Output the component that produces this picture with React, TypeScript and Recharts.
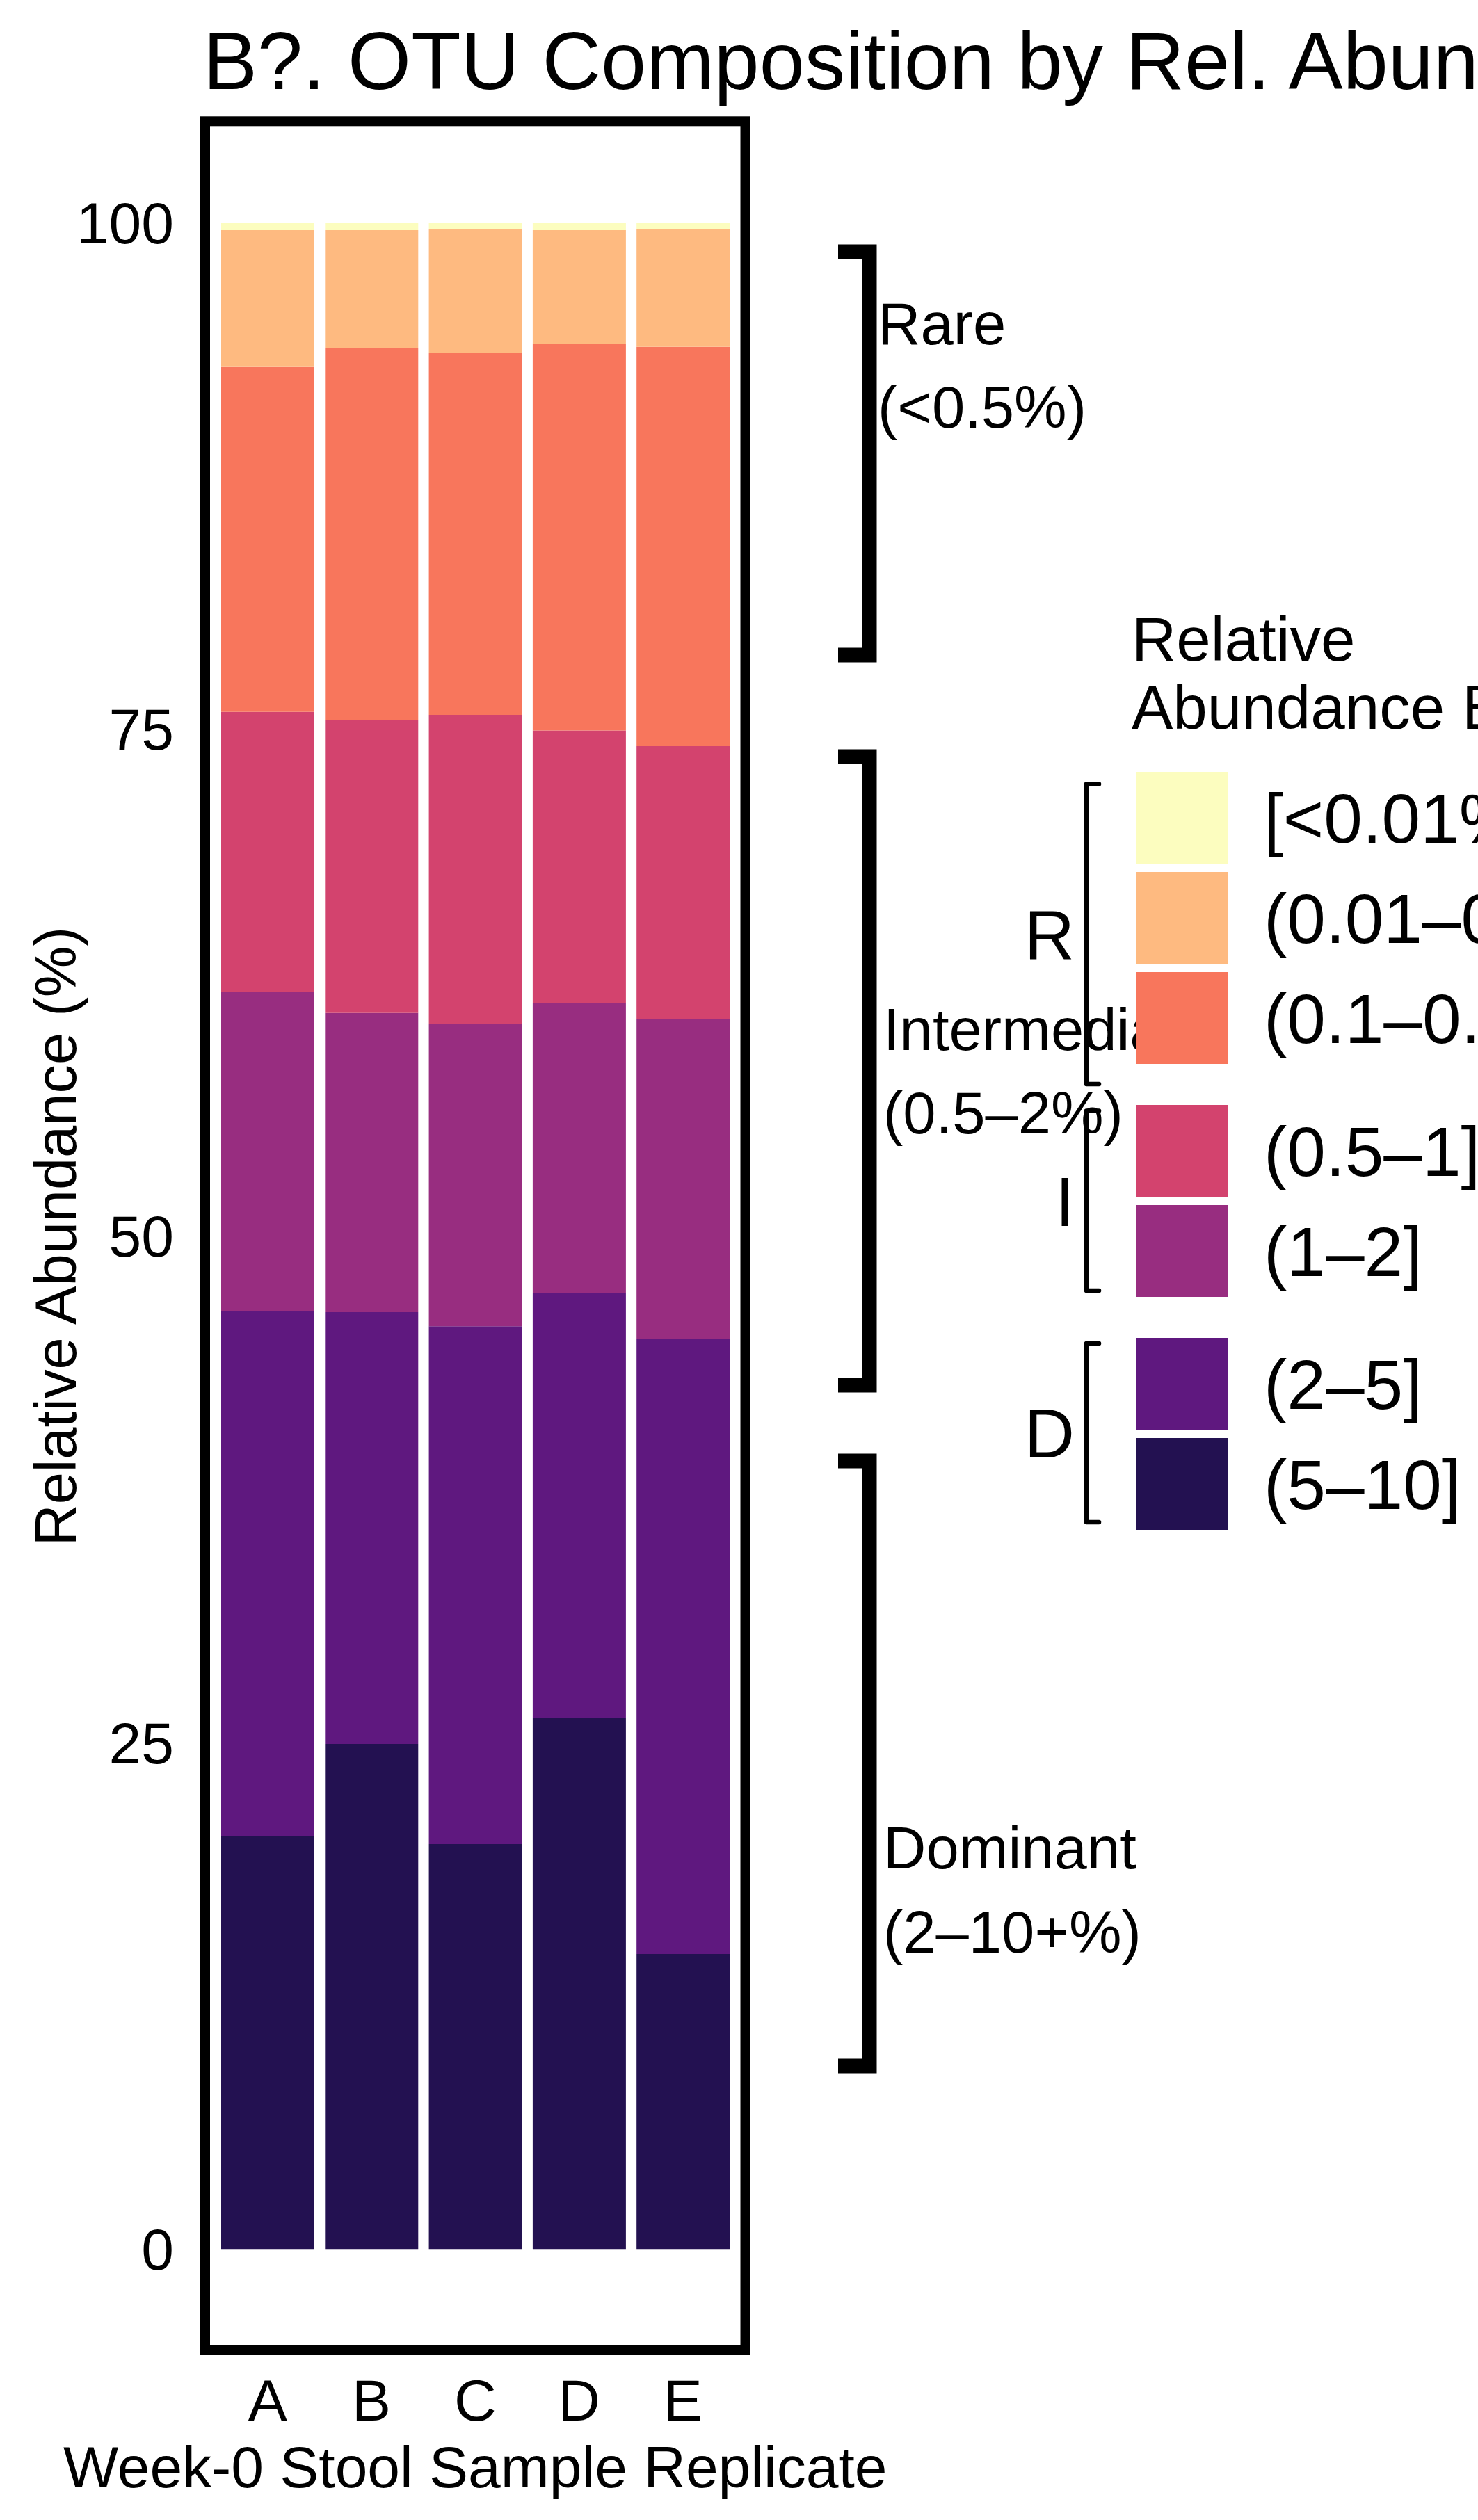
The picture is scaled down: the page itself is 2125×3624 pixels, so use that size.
import { BarChart, Bar, XAxis, YAxis } from 'recharts'

// categories
const samples = ['A', 'B', 'C', 'D', 'E']

// abundance bins, bottom of stack first
const binLabels = ['(5–10]', '(2–5]', '(1–2]', '(0.5–1]', '(0.1–0.5]', '(0.01–0.1]', '[<0.01%]']
const binColors = ['#231151', '#5F187F', '#982D80', '#D3436E', '#F8765C', '#FEBA80', '#FCFDBF']

// % of reads per bin for each replicate (A..E)
const bin5to10 = [20.39, 24.92, 19.98, 26.19, 14.56]
const bin2to5 = [25.91, 21.31, 25.56, 20.97, 30.33]
const bin1to2 = [15.75, 14.76, 14.9, 14.32, 15.8]
const bin05to1 = [13.8, 14.44, 15.27, 13.45, 13.47]
const bin01to05 = [17.02, 18.37, 17.85, 19.07, 19.71]
const bin001to01 = [6.75, 5.82, 6.1, 5.62, 5.79]
const binBelow001 = [0.38, 0.38, 0.34, 0.38, 0.34]

const yTicks = [0, 25, 50, 75, 100]

const series = [bin5to10, bin2to5, bin1to2, bin05to1, bin01to05, bin001to01, binBelow001]
const keys = ['b0', 'b1', 'b2', 'b3', 'b4', 'b5', 'b6']

const data = samples.map((s, i) => {
  const row: Record<string, any> = { sample: s }
  series.forEach((arr, k) => { row[keys[k]] = arr[i] })
  return row
})

// layout (px)
const W = 2125
const H = 3624
const plotLeft = 295
const plotRight = 1071.5
const plotTop = 174.3
const plotBottom = 3380
const font = '"Liberation Sans", Arial, Helvetica, sans-serif'

// legend rows, top to bottom = top of stack first
const legendOrder = [6, 5, 4, 3, 2, 1, 0]
const keyTops = [1110, 1254, 1398, 1589, 1733, 1924, 2068]
const keySize = 132

function Bracket({ top, bottom, x, stub, width }: { top: number; bottom: number; x: number; stub: number; width: number }) {
  return (
    <path
      d={`M${x - stub},${top} H${x} V${bottom} H${x - stub}`}
      fill="none"
      stroke="#000"
      strokeWidth={width}
      strokeLinejoin="miter"
    />
  )
}

function LegendBracket({ top, bottom }: { top: number; bottom: number }) {
  return (
    <path
      d={`M1580,${top} H1562 V${bottom} H1580`}
      fill="none"
      stroke="#000"
      strokeWidth={6.5}
      strokeLinecap="round"
      strokeLinejoin="round"
    />
  )
}

export default function App() {
  return (
    <div style={{ position: 'absolute', left: 0, top: 0, width: W, height: H, overflow: 'hidden', background: '#fff', fontFamily: font }}>
      <div style={{ position: 'absolute', left: 0, top: 0 }}>
        <BarChart
          width={W}
          height={H}
          data={data}
          margin={{ top: plotTop, right: W - plotRight, bottom: H - plotBottom - 100, left: plotLeft - 100 }}
          barSize={134}
        >
          <XAxis
            dataKey="sample"
            height={100}
            padding={{ left: 15, right: 15 }}
            axisLine={false}
            tickLine={false}
            tickMargin={35.4}
            tick={{ fontSize: 84, fill: '#000', fontFamily: font }}
          />
          <YAxis
            type="number"
            width={100}
            domain={[-5, 105]}
            ticks={yTicks}
            axisLine={false}
            tickLine={false}
            tickMargin={39}
            tick={{ fontSize: 84, fill: '#000', fontFamily: font }}
          />
          {keys.map((k, i) => (
            <Bar key={k} dataKey={k} stackId="a" fill={binColors[i]} isAnimationActive={false} />
          ))}
        </BarChart>
      </div>

      <svg width={W} height={H} style={{ position: 'absolute', left: 0, top: 0, pointerEvents: 'none' }} fontFamily={font}>
        {/* panel border */}
        <rect x={plotLeft} y={plotTop} width={plotRight - plotLeft} height={plotBottom - plotTop} fill="none" stroke="#000" strokeWidth={14} />

        <text x={292} y={128} fontSize={117} fill="#000">B?. OTU Composition by Rel. Abundance</text>

        <text x={108.7} y={1778} fontSize={83} fill="#000" textAnchor="middle" transform="rotate(-90 108.7 1778)">
          Relative Abundance (%)
        </text>
        <text x={(plotLeft + plotRight) / 2} y={3577} fontSize={84} fill="#000" textAnchor="middle">
          Week-0 Stool Sample Replicate
        </text>

        {/* category brackets */}
        <Bracket top={362} bottom={942} x={1250} stub={45} width={21} />
        <Bracket top={1088} bottom={1992} x={1250} stub={45} width={21} />
        <Bracket top={2101} bottom={2971} x={1250} stub={45} width={21} />

        <text x={1262} y={495} fontSize={85} fill="#000">Rare</text>
        <text x={1262} y={615} fontSize={85} fill="#000">(&lt;0.5%)</text>
        <text x={1270} y={1510} fontSize={85} fill="#000">Intermediate</text>
        <text x={1270} y={1630} fontSize={85} fill="#000">(0.5–2%)</text>
        <text x={1270} y={2687} fontSize={85} fill="#000">Dominant</text>
        <text x={1270} y={2808} fontSize={85} fill="#000">(2–10+%)</text>

        {/* legend */}
        <text x={1627} y={950} fontSize={89} fill="#000">Relative</text>
        <text x={1627} y={1048} fontSize={89} fill="#000">Abundance Bin</text>

        {legendOrder.map((bi, r) => (
          <g key={bi}>
            <rect x={1634} y={keyTops[r]} width={keySize} height={keySize} fill={binColors[bi]} />
            <text x={1817} y={keyTops[r] + keySize / 2 + 36} fontSize={100} fill="#000">{binLabels[bi]}</text>
          </g>
        ))}

        <LegendBracket top={1127.5} bottom={1559} />
        <LegendBracket top={1597.6} bottom={1856} />
        <LegendBracket top={1932} bottom={2189} />
        <text x={1545} y={1380} fontSize={100} fill="#000" textAnchor="end">R</text>
        <text x={1545} y={1763} fontSize={100} fill="#000" textAnchor="end">I</text>
        <text x={1545} y={2096} fontSize={100} fill="#000" textAnchor="end">D</text>
      </svg>
    </div>
  )
}
